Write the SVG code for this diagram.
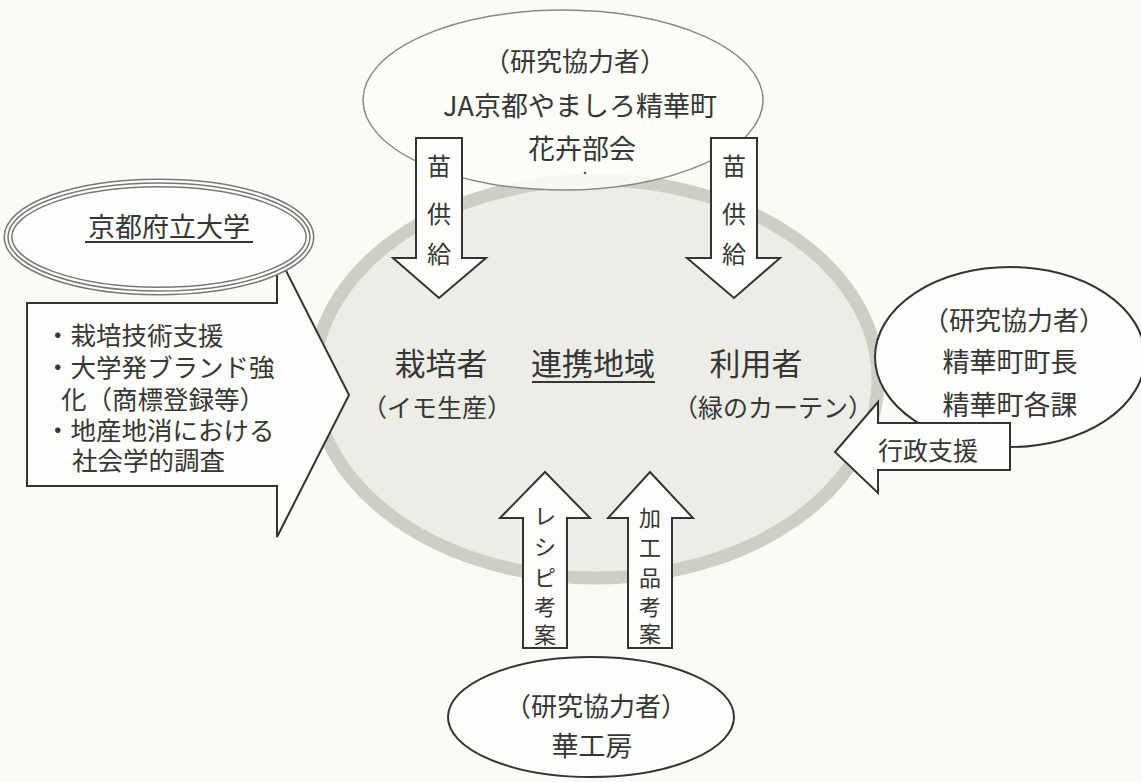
<svg xmlns="http://www.w3.org/2000/svg" width="1141" height="782" viewBox="0 0 1141 782">
<style>
.t{font-family:"Noto Sans CJK JP","Noto Sans CJK SC",sans-serif;fill:#363636;text-anchor:middle}
.l{font-family:"Noto Sans CJK JP","Noto Sans CJK SC",sans-serif;fill:#363636}
.blk{fill:#fdfdfb;stroke:#333;stroke-width:2;stroke-linejoin:miter}
.ul{stroke:#363636;stroke-width:1.8}
</style>
<rect width="1141" height="782" fill="#fafaf6"/>

<g id="region">
<ellipse cx="596" cy="379" rx="282" ry="199" fill="#edede7" stroke="#cdcfc6" stroke-width="13"/>
<text class="t" x="441" y="375" font-size="31">栽培者</text>
<text class="t" x="593" y="375" font-size="31">連携地域</text>
<line class="ul" x1="532" y1="382" x2="655" y2="382"/>
<text class="t" x="756" y="375" font-size="31">利用者</text>
<text class="t" x="437" y="417" font-size="25">（イモ生産）</text>
<text class="t" x="773" y="417" font-size="25">（緑のカーテン）</text>
</g>

<g id="ja">
<ellipse cx="563" cy="100" rx="200" ry="90" fill="#fcfcfa" fill-opacity="0.9" stroke="#888" stroke-width="1.5"/>
<text class="t" x="575" y="71" font-size="26">（研究協力者）</text>
<text class="t" x="580" y="116" font-size="27">JA京都やましろ精華町</text>
<text class="t" x="582" y="159" font-size="27">花卉部会</text>
<circle cx="585" cy="173" r="1.3" fill="#555"/>
</g>

<g id="callout">
<path class="blk" d="M27,303 H277 V253 L349,395 L277,537 V486 H27 Z"/>
<text class="l" x="45" y="345" font-size="25.5">・栽培技術支援</text>
<text class="l" x="45" y="377" font-size="25.5">・大学発ブランド強</text>
<text class="l" x="61" y="409" font-size="25.5">化（商標登録等）</text>
<text class="l" x="45" y="440" font-size="25.5">・地産地消における</text>
<text class="l" x="72" y="470" font-size="25.5">社会学的調査</text>
</g>

<g id="university">
<ellipse cx="159" cy="237" rx="151" ry="54" fill="#fdfdfb" stroke="#777" stroke-width="9"/>
<ellipse cx="159" cy="237" rx="151" ry="54" fill="none" stroke="#fdfdfb" stroke-width="6"/>
<ellipse cx="159" cy="237" rx="151" ry="54" fill="none" stroke="#777" stroke-width="1.5"/>
<text class="t" x="169" y="237" font-size="27">京都府立大学</text>
<line class="ul" x1="85" y1="242" x2="253" y2="242"/>
</g>

<g id="town">
<ellipse cx="1010" cy="357" rx="135" ry="90" fill="#fdfdfb" stroke="#333" stroke-width="2"/>
<text class="t" x="1014" y="330" font-size="26">（研究協力者）</text>
<text class="t" x="1010" y="372" font-size="27">精華町町長</text>
<text class="t" x="1010" y="415" font-size="27">精華町各課</text>
</g>

<g id="hanakobo">
<ellipse cx="591" cy="717" rx="143" ry="60" fill="#fdfdfb" stroke="#333" stroke-width="2"/>
<text class="t" x="596" y="716" font-size="26">（研究協力者）</text>
<text class="t" x="592" y="756" font-size="27">華工房</text>
</g>

<g id="connectors">
<path class="blk" d="M416,138 H462 V258 H486 L439,298 L393,258 H416 Z"/>
<text class="t" font-size="24"><tspan x="439" y="175">苗</tspan><tspan x="439" y="223">供</tspan><tspan x="439" y="263">給</tspan></text>
<path class="blk" d="M711,138 H757 V258 H780 L734,298 L687,258 H711 Z"/>
<text class="t" font-size="24"><tspan x="734" y="175">苗</tspan><tspan x="734" y="223">供</tspan><tspan x="734" y="263">給</tspan></text>
<path class="blk" d="M1010,423 V470 H878 V493 L835,452 L878,402 V423 Z"/>
<text class="t" x="928" y="460" font-size="25">行政支援</text>
<path class="blk" d="M523,648 V518 H500 L545,472 L590,518 H567 V648 Z"/>
<text class="t" font-size="22"><tspan x="545" y="524">レ</tspan><tspan x="545" y="555">シ</tspan><tspan x="545" y="586">ピ</tspan><tspan x="545" y="615">考</tspan><tspan x="545" y="643">案</tspan></text>
<path class="blk" d="M628,648 V518 H608 L650,472 L693,518 H672 V648 Z"/>
<text class="t" font-size="22"><tspan x="650" y="526">加</tspan><tspan x="650" y="556">工</tspan><tspan x="650" y="586">品</tspan><tspan x="650" y="615">考</tspan><tspan x="650" y="642">案</tspan></text>
</g>
</svg>
